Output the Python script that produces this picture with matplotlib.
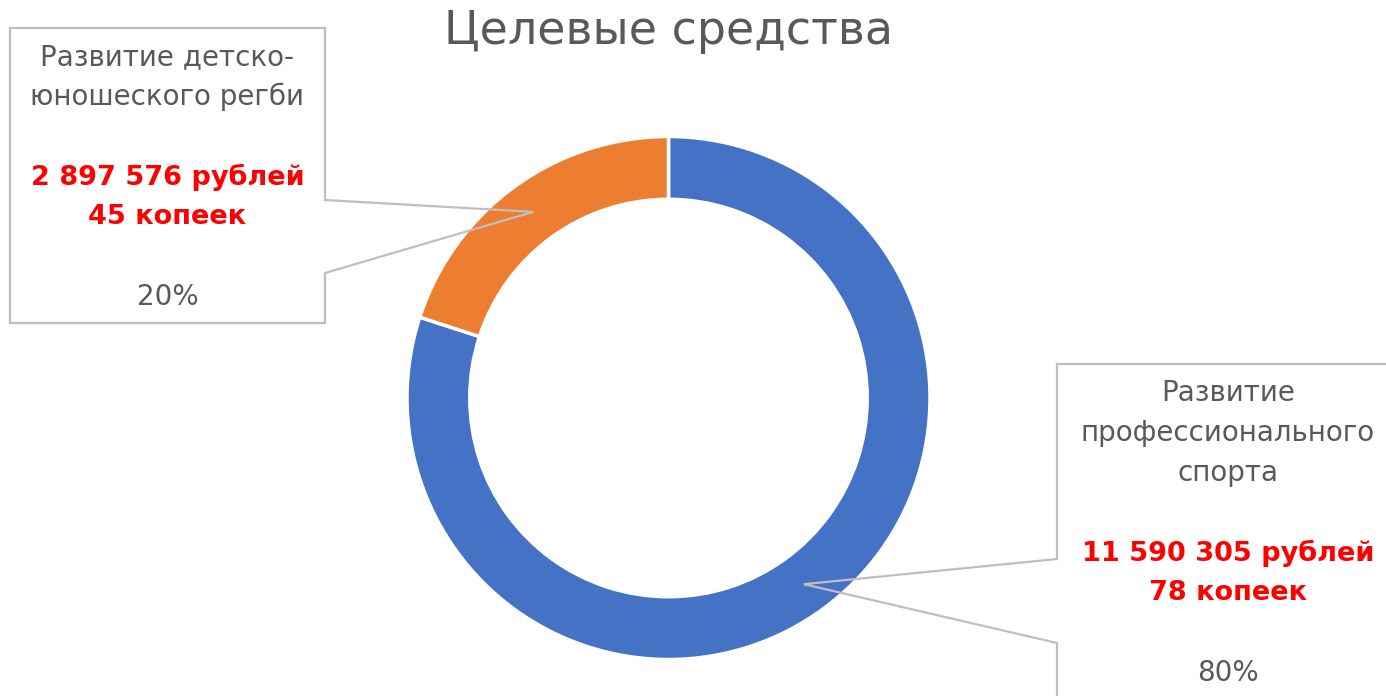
import matplotlib
matplotlib.use("Agg")
import matplotlib.pyplot as plt
import numpy as np

# ---- data ----
title = "Целевые средства"
categories = ["Развитие профессионального спорта", "Развитие детско-юношеского регби"]
values = [11590305.78, 2897576.45]
amount_labels = ["11 590 305 рублей\n78 копеек", "2 897 576 рублей\n45 копеек"]
name_labels = ["Развитие\nпрофессионального\nспорта", "Развитие детско-\nюношеского регби"]
colors = ["#4472C4", "#ED7D31"]

FONT = ["DejaVu Sans"]
GRAY = "#595959"
RED = "#FF0000"
W, H = 1386, 696

fig = plt.figure(figsize=(W / 100, H / 100), dpi=100)
fig.patch.set_facecolor("white")

# pie axes: centre (668.5, 398) px, radius 261.5 px
cx, cy, R = 668.5, 398.0, 261.5
ax = fig.add_axes([(cx - R) / W, (H - cy - R) / H, 2 * R / W, 2 * R / H])
wedges, _ = ax.pie(values, colors=colors, startangle=90, counterclock=False,
                   radius=1.0, wedgeprops=dict(width=0.24, edgecolor="white", linewidth=2.5))
ax.set_xlim(-1, 1)
ax.set_ylim(-1, 1)
ax.axis("off")

# overlay axes in pixel coords
ov = fig.add_axes([0, 0, 1, 1], facecolor="none")
ov.set_xlim(0, W)
ov.set_ylim(H, 0)
ov.axis("off")

fig.canvas.draw()

def tip_of(w):
    ang = np.deg2rad((w.theta1 + w.theta2) / 2)
    r = w.r - w.width / 2
    disp = ax.transData.transform((r * np.cos(ang), r * np.sin(ang)))
    return ov.transData.inverted().transform(disp)

pct = [v / sum(values) for v in values]
tips = [tip_of(w) for w in wedges]

line_kw = dict(color="#BFBFBF", lw=1.6, solid_joinstyle="miter")

# left callout (orange)
tx, ty = tips[1]
L, T, Rr, B = 10, 28, 325, 323
ov.plot([Rr, Rr, L, L, Rr, Rr, tx, Rr], [200, T, T, B, B, 273, ty, 200], **line_kw)
# right callout (blue)
tx, ty = tips[0]
L2, T2, R2, B2 = 1057, 364, 1400, 720
ov.plot([L2, L2, R2, R2, L2, L2, tx, L2], [559, T2, T2, B2, B2, 643, ty, 559], **line_kw)

FS = 20
FS_BOLD = 19.5
pitch = 40

def callout_text(xc, y0, name, amount, p):
    lines = []
    for s in name.split("\n"):
        lines.append((s, GRAY, "normal"))
    lines.append(("", GRAY, "normal"))
    for s in amount.split("\n"):
        lines.append((s, RED, "bold"))
    lines.append(("", GRAY, "normal"))
    lines.append((f"{p:.0%}", GRAY, "normal"))
    for i, (s, c, wt) in enumerate(lines):
        if s:
            ov.text(xc, y0 + i * pitch, s, ha="center", va="center", color=c,
                    fontsize=FS_BOLD if wt == "bold" else FS, fontweight=wt, family=FONT)

callout_text(167.5, 57, name_labels[1], amount_labels[1], pct[1])
callout_text(1228, 393, name_labels[0], amount_labels[0], pct[0])

ov.text(668, 31, title, ha="center", va="center", color=GRAY, fontsize=33, family=FONT)

fig.savefig("out.png", dpi=100, facecolor="white")
